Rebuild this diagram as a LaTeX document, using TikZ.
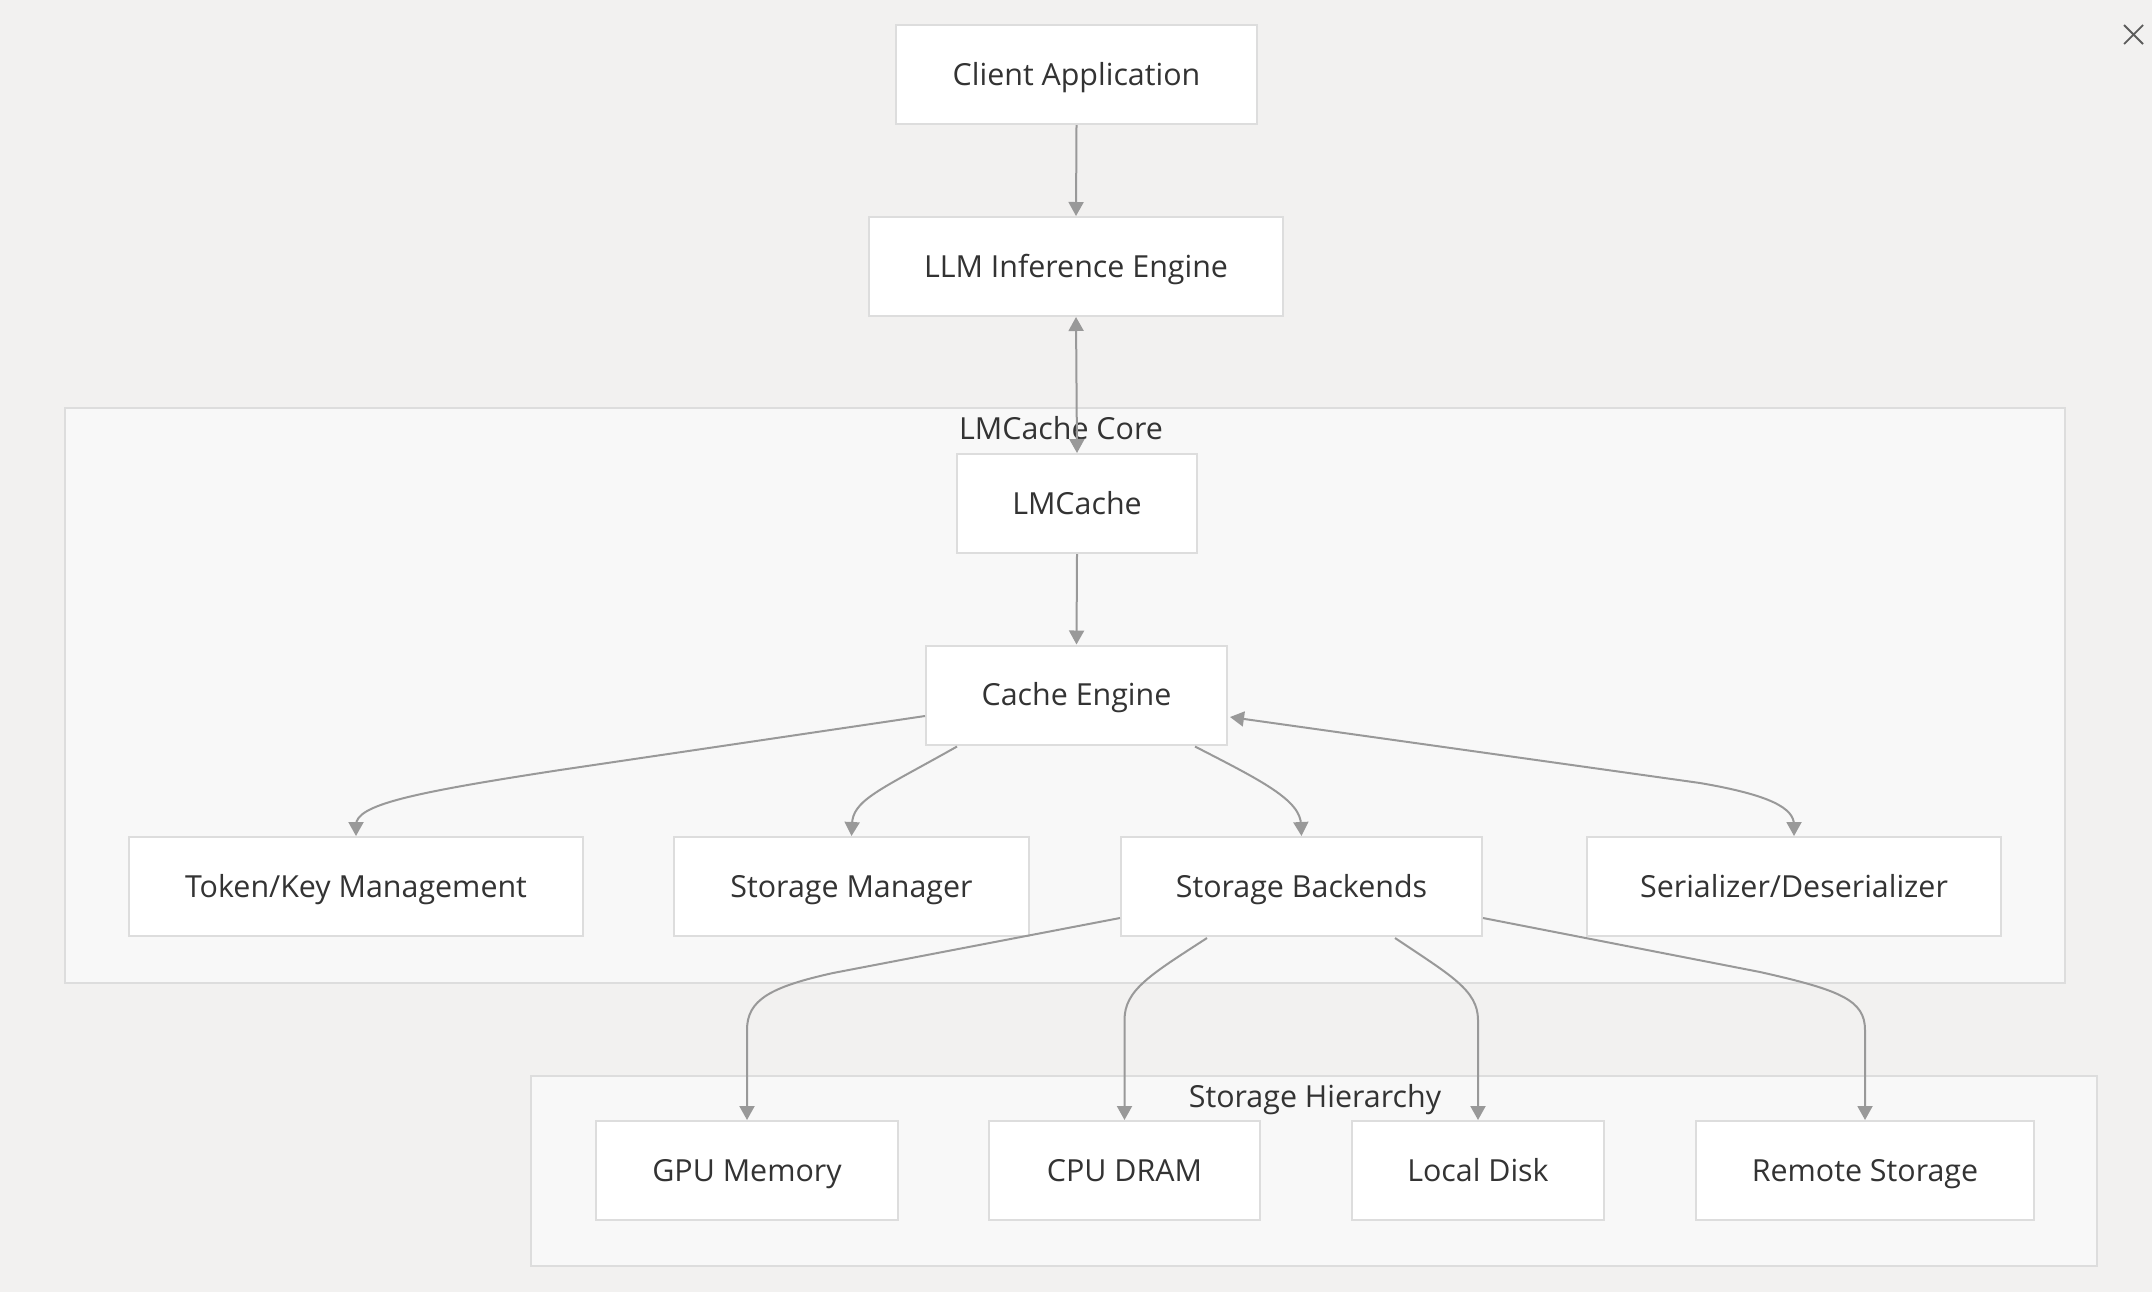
\documentclass[tikz,border=0pt]{standalone}
\usepackage{fontspec}
\setmainfont{Open Sans}
\usetikzlibrary{arrows.meta,calc}
\definecolor{bg}{HTML}{F2F1F0}
\definecolor{clfill}{HTML}{F8F8F8}
\definecolor{boxline}{HTML}{DDDDDD}
\definecolor{edgec}{HTML}{999999}
\definecolor{textc}{HTML}{333333}
\tikzset{
  box/.style={draw=boxline, fill=white, line width=1pt, minimum height=49.5pt, inner sep=0pt,
              text height=14pt, text depth=3.2pt,
              font=\fontsize{15.2}{18}\selectfont, text=textc},
  cluster/.style={draw=boxline, fill=clfill, line width=1pt},
  cllabel/.style={font=\fontsize{15.2}{18}\selectfont, text=textc, inner sep=0pt,
              text height=14pt, text depth=3.2pt},
  edge/.style={draw=edgec, line width=1pt, -{Triangle[length=7pt,width=7.5pt]}},
  biedge/.style={draw=edgec, line width=1pt, {Triangle[length=7pt,width=7.5pt]}-{Triangle[length=7pt,width=7.5pt]}},
}
\begin{document}
\begin{tikzpicture}[x=0.5pt,y=-0.5pt]
\useasboundingbox (0,0) rectangle (2152,1292);
\fill[bg] (0,0) rectangle (2152,1292);
% close mark
\draw[color=textc!80, line width=0.9pt] (2124,25) -- (2143,44) (2143,25) -- (2124,44);
% clusters
\draw[cluster] (65,408) rectangle (2065,983);
\node[cllabel] (corelbl) at (1061,429) {LMCache Core};
\draw[cluster] (531,1076) rectangle (2097,1266);
\node[cllabel] (hierlbl) at (1315,1097) {Storage Hierarchy};
% nodes
\node[box, minimum width=180.5pt] (client) at (1076.5,74.5) {Client Application};
\node[box, minimum width=207pt] (llm) at (1076,266.5) {LLM Inference Engine};
\node[box, minimum width=120pt] (lmc) at (1077,503.5) {LMCache};
\node[box, minimum width=150.5pt] (cache) at (1076.5,695) {Cache Engine};
\node[box, minimum width=227pt] (token) at (356,886.5) {Token/Key Management};
\node[box, minimum width=177.5pt] (sman) at (851.5,886.5) {Storage Manager};
\node[box, minimum width=180.5pt] (sback) at (1301.5,886.5) {Storage Backends};
\node[box, minimum width=207pt] (serial) at (1794,886.5) {Serializer/Deserializer};
\node[box, minimum width=151pt] (gpu) at (747,1170.5) {GPU Memory};
\node[box, minimum width=135.5pt] (cpu) at (1124.5,1170.5) {CPU DRAM};
\node[box, minimum width=126pt] (disk) at (1478,1170.5) {Local Disk};
\node[box, minimum width=169pt] (remote) at (1865,1170.5) {Remote Storage};
% edges
\draw[edge] (client.south) -- (llm.north);
\draw[biedge] (llm.south) -- (lmc.north);
\draw[edge] (lmc.south) -- (cache.north);
\draw[edge] ($(cache.west)+(0,21)$) -- (560,770) .. controls (410,793) and (356,805) .. (356,825) -- (token.north);
\draw[edge] ($(cache.south west)+(32,1)$) .. controls (880,790) and (852,800) .. (852,825) -- (sman.north);
\draw[edge] ($(cache.south east)+(-33,1)$) .. controls (1260,780) and (1301,800) .. (1301,825) -- (sback.north);
\draw[biedge] ($(cache.east)+(2,22)$) -- (1700,783) .. controls (1770,795) and (1794,808) .. (1794,825) -- (serial.north);
\draw[edge] ($(sback.west)+(0,31.5)$) -- (833,973) .. controls (770,987) and (747,1000) .. (747,1030) -- (gpu.north);
\draw[edge] ($(sback.south west)+(87,1)$) .. controls (1150,975) and (1124.5,990) .. (1124.5,1020) -- (cpu.north);
\draw[edge] ($(sback.south east)+(-88,1)$) .. controls (1450,975) and (1478,990) .. (1478,1020) -- (disk.north);
\draw[edge] ($(sback.east)+(0,31.5)$) -- (1760,972) .. controls (1840,990) and (1865,1000) .. (1865,1030) -- (remote.north);
\end{tikzpicture}
\end{document}
